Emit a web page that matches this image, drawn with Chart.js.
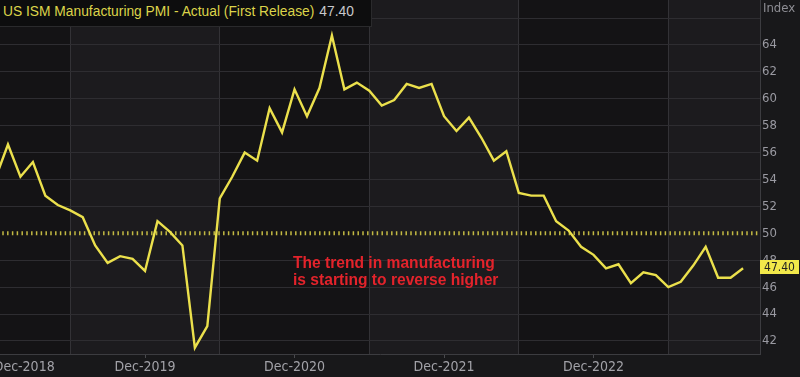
<!DOCTYPE html>
<html>
<head>
<meta charset="utf-8">
<script src="https://cdn.jsdelivr.net/npm/chart.js@4.4.0/dist/chart.umd.min.js"></script>
<style>
  body { margin: 0; background: #18181a; }
  #wrap { position: relative; width: 800px; height: 377px; overflow: hidden; }
  #title {
    position: absolute; left: 0; top: 0; width: 372px; height: 27px;
    background: #0d0d0e; border-right: 1px solid #2a2a2c; border-bottom: 1px solid #2a2a2c;
    font: 13.8px "Liberation Sans", Arial, sans-serif; line-height: 24px;
    color: #dcd44a; padding-left: 3px; box-sizing: border-box; white-space: nowrap;
  }
  #title span { color: #c8c8cc; margin-left: 5px; }
  #unit {
    position: absolute; left: 763px; top: 0; font: 13px "DejaVu Sans Condensed", sans-serif;
    color: #8e8e94;
  }
  #last {
    position: absolute; left: 760px; width: 39px; height: 14px; background: #f2e84a;
    color: #222; font: 12px "DejaVu Sans Condensed", sans-serif; line-height: 14px; text-align: center;
  }
  #note {
    position: absolute; left: 293px; top: 254px; color: #e3232b;
    font: bold 15.6px "Liberation Sans", Arial, sans-serif; line-height: 17px; white-space: nowrap;
  }
</style>
</head>
<body>
<div id="wrap">
  <canvas id="pmiChart" width="800" height="377"></canvas>
  <div id="title">US ISM Manufacturing PMI - Actual (First Release)<span>47.40</span></div>
  <div id="unit">Index</div>
  <div id="last">47.40</div>
  <div id="note">The trend in manufacturing<br>is starting to reverse higher</div>
</div>
<script>
// --------- DATA (monthly, Dec-2018 .. Dec-2023, first release) ----------
const pmiValues = [
    54.1,                                                                   // Dec-2018
    56.6, 54.2, 55.3, 52.8, 52.1, 51.7, 51.2, 49.1, 47.8, 48.3, 48.1, 47.2, // 2019
    50.9, 50.1, 49.1, 41.5, 43.1, 52.6, 54.2, 56.0, 55.4, 59.3, 57.5, 60.7, // 2020
    58.7, 60.8, 64.7, 60.7, 61.2, 60.6, 59.5, 59.9, 61.1, 60.8, 61.1, 58.7, // 2021
    57.6, 58.6, 57.1, 55.4, 56.1, 53.0, 52.8, 52.8, 50.9, 50.2, 49.0, 48.4, // 2022
    47.4, 47.7, 46.3, 47.1, 46.9, 46.0, 46.4, 47.6, 49.0, 46.7, 46.7, 47.4  // 2023
];
const yearLabels = ['Dec-2018', 'Dec-2019', 'Dec-2020', 'Dec-2021', 'Dec-2022'];
const yTicks = [42, 44, 46, 48, 50, 52, 54, 56, 58, 60, 62, 64, 66];
const threshold = 50;

const xMin = 0.36, xMax = 61.36;   // month index, Dec-2018 = 0
const yMin = 41.03, yMax = 67.34;

const pmiPoints = pmiValues.map((v, i) => ({ x: i, y: v }));

// ---------- background bands between the June grid lines ----------
const bandsPlugin = {
    id: 'bands',
    beforeDraw(chart) {
        const { ctx, chartArea: a, scales: { x } } = chart;
        ctx.save();
        ctx.fillStyle = '#18181a';
        ctx.fillRect(0, 0, chart.width, chart.height);
        const edges = [a.left];
        for (let m = 6; m < xMax; m += 12) edges.push(x.getPixelForValue(m));
        edges.push(a.right);
        for (let i = 0; i < edges.length - 1; i++) {
            ctx.fillStyle = i % 2 === 0 ? '#141315' : '#1c1b1e';
            ctx.fillRect(edges[i], a.top, edges[i + 1] - edges[i], a.bottom - a.top);
        }
        ctx.restore();
    },
    afterDraw(chart) {
        const y = chart.scales.y.getPixelForValue(pmiValues[pmiValues.length - 1]);
        document.getElementById('last').style.top = (y - 8) + 'px';
    }
};

const pmiCtx = document.getElementById('pmiChart').getContext('2d');

let pmiChart = new Chart(pmiCtx, {
    type: 'line',
    data: {
        datasets: [{
            label: 'ISM PMI',
            data: pmiPoints,
            borderColor: '#ebe04c',
            borderWidth: 2.4,
            pointRadius: 0,
            tension: 0
        }, {
            label: '50 line',
            data: [{ x: -1, y: threshold }, { x: 62, y: threshold }],
            borderColor: '#c2b943',
            borderWidth: 4,
            borderDash: [1.5, 3.3],
            pointRadius: 0
        }]
    },
    options: {
        responsive: false,
        animation: false,
        layout: { padding: 0 },
        plugins: { legend: { display: false }, tooltip: { enabled: false } },
        scales: {
            x: {
                type: 'linear',
                min: xMin,
                max: xMax,
                afterBuildTicks: s => {
                    const t = [{ value: 2.3 }];
                    for (let m = 6; m < xMax; m += 6) t.push({ value: m });
                    s.ticks = t;
                },
                afterFit: s => { s.height = 23; s.paddingLeft = 0; s.paddingRight = 0; },
                ticks: {
                    autoSkip: false,
                    maxRotation: 0,
                    padding: 1,
                    color: '#a2a2a8',
                    font: { family: 'DejaVu Sans Condensed', size: 14 },
                    callback: (v) => v === 2.3 ? yearLabels[0] : (v % 12 === 0 ? yearLabels[v / 12] : '')
                },
                grid: {
                    color: c => (c.tick && c.tick.value % 12 === 6) ? '#333236' : 'transparent',
                    tickColor: c => (c.tick && c.tick.value % 12 === 0) ? '#4a4a4e' : 'transparent',
                    tickLength: 4
                },
                border: { color: '#3c3c40' }
            },
            y: {
                type: 'linear',
                position: 'right',
                min: yMin,
                max: yMax,
                afterBuildTicks: s => { s.ticks = yTicks.map(v => ({ value: v })); },
                afterFit: s => { s.width = 40; s.paddingTop = 0; s.paddingBottom = 0; },
                ticks: {
                    padding: 2,
                    color: '#9a9aa2',
                    font: { family: 'DejaVu Sans Condensed', size: 13 },
                    callback: v => v === 66 ? '' : v
                },
                grid: {
                    color: c => (c.tick && c.tick.value === threshold) ? 'transparent' : '#2e2d31',
                    drawTicks: false
                },
                border: { color: '#3c3c40' }
            }
        }
    },
    plugins: [bandsPlugin]
});
</script>
</body>
</html>
